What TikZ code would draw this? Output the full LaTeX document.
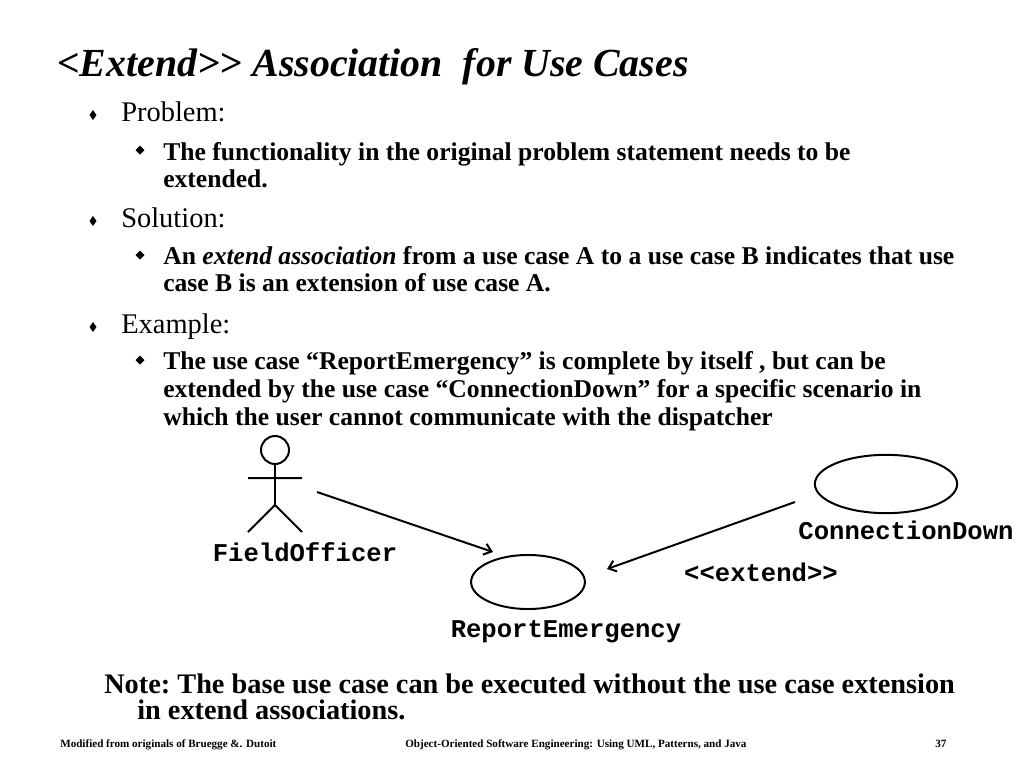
\documentclass[tikz,border=0pt]{standalone}
\usepackage{fontspec}
\setmainfont{Liberation Serif}
\setmonofont{Liberation Mono}
\usetikzlibrary{shapes.geometric,arrows.meta}
\begin{document}
\begin{tikzpicture}[x=0.703pt,y=-0.703pt,
  txt/.style={anchor=base west,inner sep=0pt},
  head/.style={txt,font=\fontsize{28}{34}\selectfont\bfseries\itshape},
  main/.style={txt,font=\fontsize{20}{24}\selectfont},
  sub/.style={txt,font=\fontsize{18}{22}\selectfont\bfseries},
  note/.style={txt,font=\fontsize{19.9}{24}\selectfont\bfseries},
  foot/.style={txt,font=\fontsize{7.8}{10}\selectfont\bfseries},
  uml/.style={anchor=base,inner sep=0pt,font=\fontsize{18}{22}\selectfont\ttfamily\bfseries},
  usecase/.style={ellipse,draw,line width=1.4pt,inner sep=0pt},
  assoc/.style={line width=1.4pt,-{Straight Barb[length=5pt,width=8pt]}}]
\useasboundingbox (0,0) rectangle (1024,768);
\def\bigdiamond#1{(93,#1) ++(0,-5) -- ++(3.5,5) -- ++(-3.5,5) -- ++(-3.5,-5) -- cycle}
\def\smalldiamond#1{(140,#1) ++(0,-4.5) -- ++(4.5,4.5) -- ++(-4.5,4.5) -- ++(-4.5,-4.5) -- cycle}
% title and bullets
\node[head] (title) at (57,76) {<Extend>{}> Association\ \ for Use Cases};
\fill \bigdiamond{115} \bigdiamond{221} \bigdiamond{327};
\fill \smalldiamond{150} \smalldiamond{255} \smalldiamond{360};
\node[main] (problem) at (121,121) {Problem:};
\node[sub] (prob1) at (163,160) {The functionality in the original problem statement needs to be};
\node[sub] (prob2) at (163,187) {extended.};
\node[main] (solution) at (121,227) {Solution:};
\node[sub] (sol1) at (163,264) {An \textit{extend association} from a use case A to a use case B indicates that use};
\node[sub] (sol2) at (163,291) {case B is an extension of use case A.};
\node[main] (example) at (121,333) {Example:};
\node[sub] (ex1) at (163,369) {The use case “ReportEmergency” is complete by itself , but can be};
\node[sub] (ex2) at (163,397) {extended by the use case “ConnectionDown” for a specific scenario in};
\node[sub] (ex3) at (163,425) {which the user cannot communicate with the dispatcher};
% actor
\draw[line width=1.4pt] (275,450) circle (14)
  (275,464) -- (275,505) (248,478) -- (302,478)
  (248,532) -- (275,505) -- (302,532);
\node[uml] (fieldofficer) at (305,561) {FieldOfficer};
% use cases
\node[usecase,minimum width=80pt,minimum height=38pt] (report) at (528,582) {};
\node[uml] (reportlbl) at (566,637) {ReportEmergency};
\node[usecase,minimum width=100pt,minimum height=41pt] (conndown) at (886,484) {};
\node[uml] (conndownlbl) at (906,539) {ConnectionDown};
\node[uml] (extend) at (761,581) {<{}<extend>{}>};
\coordinate (fo-out) at (317,492);
\coordinate (re-left) at (493,552);
\coordinate (cd-out) at (795,502);
\coordinate (re-right) at (607,569);
\draw[assoc] (fo-out) -- (re-left);
\draw[assoc] (cd-out) -- (re-right);
% note and footer
\node[note] (note1) at (104,693) {\frenchspacing Note: The base use case can be executed without the use case extension};
\node[note] (note2) at (137,719) {in extend associations.};
\node[foot] (footl) at (60,747) {Modified from originals of Bruegge \&. Dutoit};
\node[foot] (footm) at (405,747) {Object-Oriented Software Engineering: Using UML, Patterns, and Java};
\node[foot] (footr) at (935,747) {37};
\end{tikzpicture}
\end{document}
